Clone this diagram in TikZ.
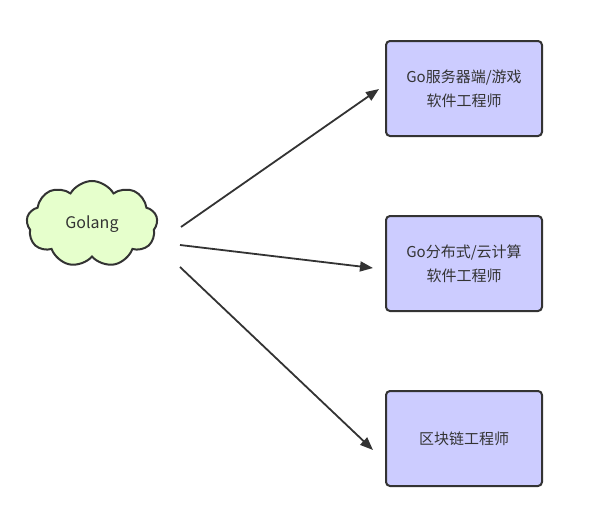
\documentclass[tikz,border=0pt]{standalone}
\usepackage{fontspec}
\setmainfont{Noto Sans CJK SC}
\usetikzlibrary{shapes.symbols,arrows.meta}
\definecolor{boxfill}{HTML}{CCCCFF}
\definecolor{cloudfill}{HTML}{E6FFCC}
\definecolor{edge}{HTML}{333333}
\tikzset{
  rolebox/.style={draw=edge,fill=boxfill,line width=2pt,rounded corners=4pt,
    minimum width=156pt,minimum height=95pt,inner sep=0pt,align=center,
    text=edge,font=\fontsize{15pt}{24pt}\selectfont},
  cloudnode/.style={cloud,cloud puffs=9,cloud puff arc=120,draw=edge,fill=cloudfill,
    line width=2pt,minimum width=131pt,minimum height=86pt,inner sep=0pt,
    text=edge,font=\fontsize{16pt}{18pt}\selectfont},
  link/.style={draw=edge,line width=1.8pt,-{Triangle[length=13pt,width=10pt]}}
}
\begin{document}
\begin{tikzpicture}[x=1pt,y=-1pt]
\useasboundingbox (0,0) rectangle (597,522);
\node[cloudnode] (go) at (92,224) {Golang};
\node[rolebox] (b1) at (464,88.5) {Go服务器端/游戏\\软件工程师};
\node[rolebox] (b2) at (464,263.5) {Go分布式/云计算\\软件工程师};
\node[rolebox] (b3) at (464,438.5) {区块链工程师};
\coordinate (s1) at (181,227);
\coordinate (s2) at (180,245);
\coordinate (s3) at (180,267);
\coordinate (e1) at (379,89);
\coordinate (e2) at (373,268);
\coordinate (e3) at (373,450);
\draw[link] (s1) -- (e1);
\draw[link] (s2) -- (e2);
\draw[link] (s3) -- (e3);
\end{tikzpicture}
\end{document}
